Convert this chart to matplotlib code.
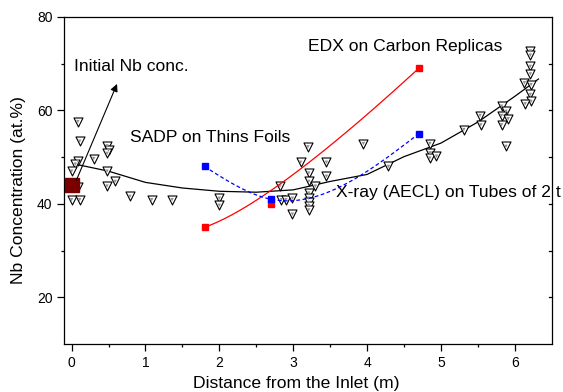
import matplotlib
matplotlib.use("Agg")
import matplotlib.pyplot as plt
import numpy as np

plt.rcParams['font.family'] = ['Liberation Sans', 'DejaVu Sans']

## data
# X-ray (AECL) measurements on tubes
xray_x = [0.085, 0.11, 0.30, 0.085, 0.05, 0.0, 0.085, 0.0, 0.11,
          0.48, 0.50, 0.48, 0.48, 0.59, 0.48,
          0.79, 1.085, 1.36,
          2.0, 2.0,
          2.82, 2.84, 2.9, 2.99, 2.99,
          3.1, 3.2, 3.21, 3.21, 3.30, 3.21, 3.21, 3.21, 3.21, 3.21,
          3.45, 3.45,
          3.95, 4.29,
          4.85, 4.85, 4.85, 4.94,
          5.31, 5.53, 5.54,
          5.82, 5.88, 5.82, 5.91, 5.82, 5.88,
          6.21, 6.21, 6.21, 6.21, 6.13, 6.22, 6.21, 6.22, 6.14]
xray_y = [57.6, 53.4, 49.7, 49.2, 48.5, 47.0, 43.6, 40.9, 40.9,
          52.4, 51.5, 50.8, 47.0, 44.8, 43.8,
          41.6, 40.9, 40.9,
          41.2, 39.7,
          43.8, 40.9, 40.9, 41.2, 37.8,
          48.9, 52.2, 46.6, 44.8, 43.8, 42.3, 41.2, 40.3, 39.6, 38.7,
          48.9, 45.9,
          52.9, 48.0,
          52.9, 50.9, 49.8, 50.2,
          55.9, 58.9, 56.9,
          60.9, 59.8, 58.9, 58.2, 56.9, 52.3,
          72.7, 71.8, 69.4, 67.8, 65.9, 65.5, 63.4, 61.9, 61.4]

# smoothed trend of the X-ray data
trend_x = [0.05, 0.5, 1.0, 1.5, 2.0, 2.5, 3.0, 3.5, 4.0, 4.5, 5.0, 5.5, 6.0, 6.32]
trend_y = [48.5, 47.0, 44.6, 43.4, 42.7, 42.5, 43.0, 44.8, 46.3, 50.1, 53.0, 57.5, 63.0, 66.7]

# EDX on carbon replicas
edx_x = [1.8, 2.7, 4.7]
edx_y = [35.0, 40.0, 69.0]

# SADP on thin foils
sadp_x = [1.8, 2.7, 4.7]
sadp_y = [48.0, 41.0, 55.0]

# initial Nb concentration
init_x = [0.0]
init_y = [44.0]


def bspline2(xs, ys, n=100):
    # quadratic B-spline (Bezier) through the 3 control points
    t = np.linspace(0, 1, n)
    bx = (1-t)**2*xs[0] + 2*t*(1-t)*xs[1] + t**2*xs[2]
    by = (1-t)**2*ys[0] + 2*t*(1-t)*ys[1] + t**2*ys[2]
    return bx, by


def natural_spline(xs, ys, n=100):
    xs = np.asarray(xs, float)
    ys = np.asarray(ys, float)
    k = len(xs)
    h = np.diff(xs)
    A = np.zeros((k, k))
    r = np.zeros(k)
    A[0, 0] = A[-1, -1] = 1
    for i in range(1, k-1):
        A[i, i-1] = h[i-1]
        A[i, i] = 2*(h[i-1]+h[i])
        A[i, i+1] = h[i]
        r[i] = 6*((ys[i+1]-ys[i])/h[i] - (ys[i]-ys[i-1])/h[i-1])
    M = np.linalg.solve(A, r)
    xx = np.linspace(xs[0], xs[-1], n)
    yy = np.empty_like(xx)
    for j, x in enumerate(xx):
        i = min(np.searchsorted(xs, x, side='right')-1, k-2)
        a = xs[i+1]-x
        b = x-xs[i]
        yy[j] = (M[i]*a**3 + M[i+1]*b**3)/(6*h[i]) \
            + (ys[i]/h[i] - M[i]*h[i]/6)*a + (ys[i+1]/h[i] - M[i+1]*h[i]/6)*b
    return xx, yy


fig = plt.figure(figsize=(5.63, 3.92), dpi=100)
ax = fig.add_axes([0.114, 0.122, 0.866, 0.835])

# trend line and X-ray points
ax.plot(trend_x, trend_y, color='k', lw=0.9, zorder=2)
ax.scatter(xray_x, xray_y, marker='v', s=42, facecolor='white', edgecolor='k', linewidth=0.8, zorder=3)
ax.scatter(xray_x, xray_y, marker='v', s=6, facecolor='#909090', edgecolor='none', zorder=4)

# EDX curve
ex, ey = bspline2(edx_x, edx_y)
ax.plot(ex, ey, color='red', lw=0.9, zorder=5)
ax.plot(edx_x, edx_y, 's', color='red', ms=5, ls='none', zorder=6)

# SADP curve
sx, sy = natural_spline(sadp_x, sadp_y)
ax.plot(sx, sy, color='blue', lw=0.9, ls=(0, (3, 2)), zorder=5)
ax.plot(sadp_x, sadp_y, 's', color='blue', ms=5, ls='none', zorder=7)

# initial conc.
ax.plot(init_x, init_y, 's', color='#7a0000', ms=9.5, ls='none', zorder=8, clip_on=False)
ax.annotate('', xy=(0.63, 66.2), xytext=(0.05, 44.5),
            arrowprops=dict(arrowstyle='-|>', color='k', lw=0.8, mutation_scale=11), zorder=9)

# labels in the plot
fs = 12.6
ax.text(0.03, 69.4, 'Initial Nb conc.', fontsize=fs, va='center')
ax.text(0.79, 54.2, 'SADP on Thins Foils', fontsize=fs, va='center')
ax.text(3.2, 73.7, 'EDX on Carbon Replicas', fontsize=fs, va='center')
ax.text(3.58, 42.4, 'X-ray (AECL) on Tubes of 2 t', fontsize=fs, va='center', zorder=1)

ax.set_xlim(-0.1, 6.5)
ax.set_ylim(10, 80)
ax.set_xticks([0, 1, 2, 3, 4, 5, 6])
ax.set_xticks(np.arange(0.5, 6.5, 1.0), minor=True)
ax.set_yticks([20, 40, 60, 80])
ax.set_yticks([30, 50, 70], minor=True)
ax.tick_params(which='major', direction='out', length=5, width=0.9, labelsize=10)
ax.tick_params(which='minor', direction='out', length=2.5, width=0.9)
ax.tick_params(top=False, right=False, which='both')

# inward ticks on the right side
for yv in [20, 30, 40, 50, 60, 70]:
    ax.plot([6.5 - 0.035, 6.5], [yv, yv], color='k', lw=0.9, clip_on=False)

for s in ax.spines.values():
    s.set_linewidth(0.9)
    s.set_zorder(10)

ax.set_xlabel('Distance from the Inlet (m)', fontsize=fs)
ax.set_ylabel('Nb Concentration (at.%)', fontsize=fs)
ax.xaxis.set_label_coords(0.476, -0.097)
ax.yaxis.set_label_coords(-0.079, 0.47)

fig.savefig('out.png', dpi=100)
